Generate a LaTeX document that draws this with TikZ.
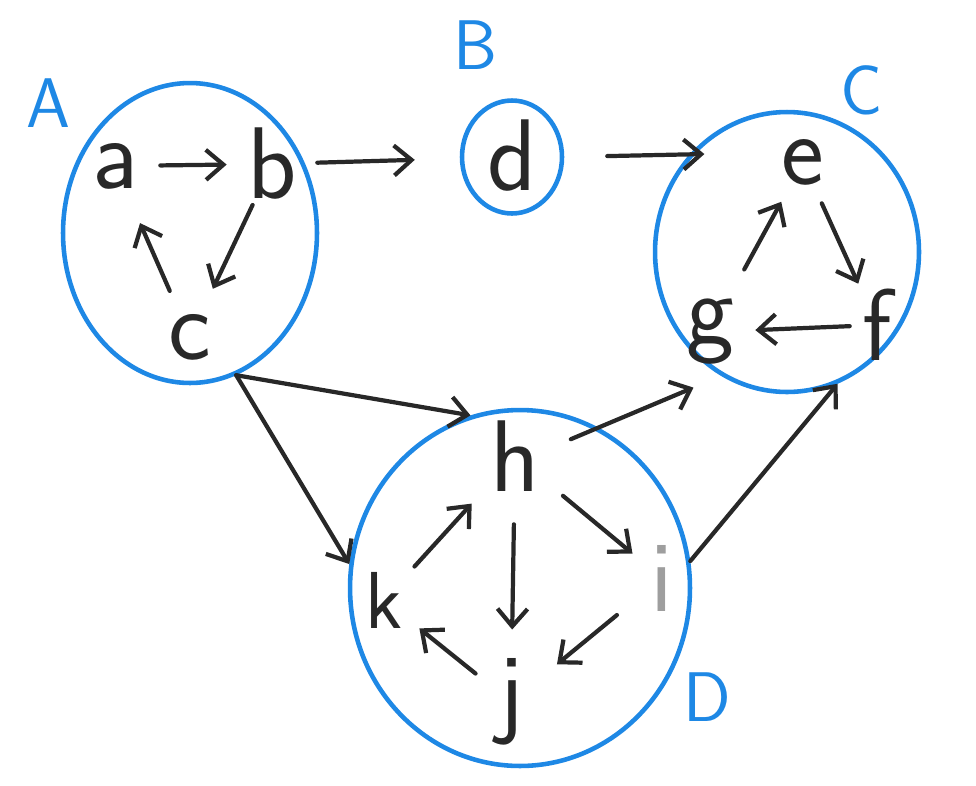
\documentclass[tikz,border=0pt]{standalone}
\usetikzlibrary{arrows.meta,shapes.geometric}
\definecolor{pencilblue}{RGB}{30,136,229}
\definecolor{pencil}{RGB}{40,40,40}

\begin{document}
\begin{tikzpicture}[x=0.02cm,y=-0.02cm,
    vert/.style={circle,minimum size=1.8cm,inner sep=0pt,text=pencil,
        font=\sffamily\fontsize{58}{58}\selectfont},
    group/.style={ellipse,draw=pencilblue,line width=2.6pt,inner sep=0pt},
    grouplabel/.style={text=pencilblue,font=\sffamily\fontsize{40}{40}\selectfont},
    link/.style={draw=pencil,line width=2.4pt,line cap=round,
        -{Straight Barb[length=3.5mm,width=6mm]}}]
    \useasboundingbox (0,0) rectangle (976,785);

    % components
    \node[group,minimum width=5.08cm,minimum height=6cm] (A) at (190,233) {};
    \node[group,minimum width=2cm,minimum height=2.26cm] (B) at (512,157) {};
    \node[group,minimum width=5.28cm,minimum height=5.6cm] (C) at (787,252) {};
    \node[group,minimum width=6.8cm,minimum height=7.12cm] (D) at (520,588) {};

    \node[grouplabel] (lA) at (48,103) {A};
    \node[grouplabel] (lB) at (475,45) {B};
    \node[grouplabel] (lC) at (862,90) {C};
    \node[grouplabel] (lD) at (707,697) {D};

    % vertices
    \node[vert] (a) at (115,166) {a};
    \node[vert] (b) at (272,164) {b};
    \node[vert] (c) at (190,337) {c};
    \node[vert] (d) at (512,156) {d};
    \node[vert] (e) at (803,162) {e};
    \node[vert] (f) at (877,325) {f};
    \node[vert] (g) at (710,332) {g};
    \node[vert] (h) at (515,456) {h};
    \node[vert,text=pencil!45] (i) at (662,578) {i};
    \node[vert] (j) at (511,702) {j};
    \node[vert,font=\sffamily\fontsize{46}{46}\selectfont] (k) at (384,600) {k};

    % inside A
    \draw[link] (a) -- (b);
    \draw[link,shorten >=0.16cm] (b) -- (c);
    \draw[link,shorten <=0.1cm,shorten >=0.34cm] (c) -- (a);

    % inside C
    \draw[link] (e) -- (f);
    \draw[link,shorten <=-0.36cm] (f) -- (g);
    \draw[link,shorten <=0.52cm] (g) -- (e);

    % inside D
    \draw[link,shorten >=0.38cm] (k) -- (h);
    \draw[link,shorten <=0.46cm,shorten >=0.54cm] (h) -- (j);
    \draw[link,shorten <=0.34cm,shorten >=-0.14cm] (h) -- (i);
    \draw[link,shorten <=0.26cm,shorten >=0.28cm] (i) -- (j);
    \draw[link] (j) -- (k);

    % between components
    \draw[link,shorten >=0.9cm] (b) -- (B);
    \draw[link,shorten <=0.86cm,shorten >=-0.3cm] (B.east) -- (C.135);
    \draw[link] (A.-72) -- (D.106);
    \draw[link] (A.-72) -- (D.172);
    \draw[link,shorten <=0.26cm,shorten >=0.6cm] (h.15) -- (C.-118);
    \draw[link] (D.9) -- (C.-69);
\end{tikzpicture}
\end{document}
